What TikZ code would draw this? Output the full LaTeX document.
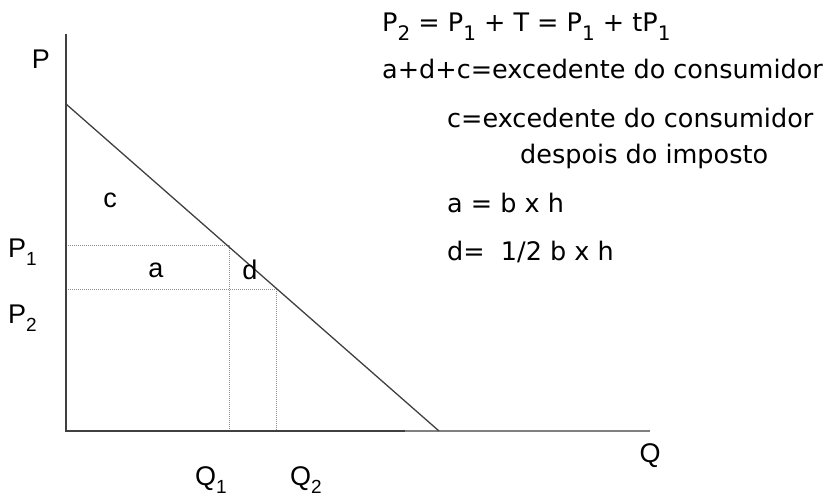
\documentclass[tikz,border=0pt]{standalone}
\usepackage{fontspec}
\setmainfont{Liberation Sans}
\newfontfamily\verd{DejaVu Sans}
\newcommand{\lsub}[1]{\raisebox{-8pt}{\fontsize{19}{19}\selectfont #1}}
\newcommand{\rsub}[1]{\raisebox{-9pt}{\fontsize{20}{20}\selectfont #1}}
\begin{document}
\begin{tikzpicture}[x=1pt,y=-1pt,
  axisline/.style={draw=black!75,line width=1.3pt},
  guide/.style={draw=black!45,line width=1pt,densely dotted},
  lbl/.style={inner sep=0pt,font=\fontsize{27}{27}\selectfont},
  rtxt/.style={inner sep=0pt,anchor=base west,font=\verd\fontsize{25.5}{25.5}\selectfont}]
\useasboundingbox (0,0) rectangle (832,499);
% points
\coordinate (O) at (66,431);
\coordinate (Ptop) at (66,34);
\coordinate (Qend) at (650,431);
\coordinate (Qmid) at (405,431);
\coordinate (D0) at (66,104);
\coordinate (D1) at (439,431);
\coordinate (E1) at (229,245);
\coordinate (E2) at (276,289);
\coordinate (Y1) at (66,245);
\coordinate (Y2) at (66,289);
\coordinate (X1) at (229,431);
\coordinate (X2) at (276,431);
% guides
\draw[guide] (Y1) -- (E1) -- (X1);
\draw[guide] (Y2) -- (E2) -- (X2);
% axes
\draw[axisline,draw=black!50] (Qmid) -- (Qend);
\draw[axisline] (Ptop) -- (O) -- (Qmid);
% demand
\draw[axisline] (D0) -- (D1);
% axis labels
\node[lbl] (lP) at (41,59) {P};
\node[lbl] (lQ) at (650,456) {Q};
\node[lbl,anchor=base west] (lP1) at (8,257) {P\lsub{1}};
\node[lbl,anchor=base west] (lP2) at (8,323) {P\lsub{2}};
\node[lbl,anchor=base west] (lQ1) at (195,485) {Q\lsub{1}};
\node[lbl,anchor=base west] (lQ2) at (290,485) {Q\lsub{2}};
% area labels
\node[lbl] (lc) at (110,200) {c};
\node[lbl] (la) at (156,270) {a};
\node[lbl] (ld) at (250,270) {d};
% right text
\node[rtxt] (t1) at (382,31) {P\rsub{2} = P\rsub{1} + T = P\rsub{1} + tP\rsub{1}};
\node[rtxt] (t2) at (382,78) {a+d+c=excedente do consumidor};
\node[rtxt] (t3) at (447,127) {c=excedente do consumidor};
\node[rtxt] (t4) at (520,163) {despois do imposto};
\node[rtxt] (t5) at (447,212) {a = b x h};
\node[rtxt] (t6) at (447,260) {d=\ \ 1/2 b x h};
\end{tikzpicture}
\end{document}
